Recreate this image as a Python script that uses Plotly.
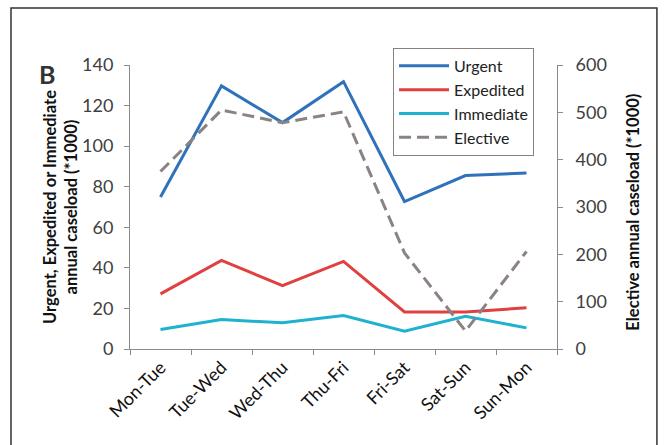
import plotly.graph_objects as go

# data
days = ["Mon-Tue", "Tue-Wed", "Wed-Thu", "Thu-Fri", "Fri-Sat", "Sat-Sun", "Sun-Mon"]
urgent = [74.9, 129.7, 111.6, 131.8, 72.7, 85.5, 86.7]
expedited = [27.2, 43.7, 31.2, 43.2, 18.3, 18.3, 20.3]
immediate = [9.6, 14.5, 12.9, 16.5, 8.8, 16.1, 10.4]
elective = [375, 505, 478, 501, 203, 38, 206]

FONT = "Lato, Carlito, Calibri, sans-serif"
AXIS_GREY = "#8a8a8a"
TICK_COLOR = "#404040"

fig = go.Figure()

fig.add_trace(go.Scatter(x=days, y=urgent, name="Urgent", mode="lines",
                         line=dict(color="#2f72bb", width=3)))
fig.add_trace(go.Scatter(x=days, y=expedited, name="Expedited", mode="lines",
                         line=dict(color="#e0403f", width=3)))
fig.add_trace(go.Scatter(x=days, y=immediate, name="Immediate", mode="lines",
                         line=dict(color="#1eb2cf", width=3)))
fig.add_trace(go.Scatter(x=days, y=elective, name="Elective", mode="lines",
                         yaxis="y2",
                         line=dict(color="#8b8282", width=3, dash="12px,6px")))

fig.update_layout(
    width=665, height=445,
    margin=dict(l=130, r=108, t=65, b=96, autoexpand=False),
    paper_bgcolor="white", plot_bgcolor="white",
    font=dict(family=FONT, size=16, color=TICK_COLOR),
    showlegend=True,
    legend=dict(x=0.616, y=1.06, xanchor="left", yanchor="top",
                bordercolor="#8a8080", borderwidth=1, bgcolor="white",
                itemwidth=50,
                font=dict(size=16, color="#222222"), tracegroupgap=0),
    xaxis=dict(type="category", range=[-0.5, 6.5], tickson="boundaries",
               showline=True, linecolor=AXIS_GREY, linewidth=1,
               ticks="outside", ticklen=5, tickcolor=AXIS_GREY,
               showgrid=False, zeroline=False, tickangle=-45,
               tickfont=dict(size=18, color="#111111")),
    yaxis=dict(range=[0, 140], dtick=20, showline=True, linecolor=AXIS_GREY,
               ticks="outside", ticklen=5, tickcolor=AXIS_GREY,
               showgrid=False, zeroline=False, ticklabelstandoff=7,
               tickfont=dict(size=18, color=TICK_COLOR)),
    yaxis2=dict(range=[0, 600], dtick=100, overlaying="y", side="right",
                showline=True, linecolor=AXIS_GREY,
                ticks="outside", ticklen=5, tickcolor=AXIS_GREY,
                showgrid=False, zeroline=False, ticklabelstandoff=9,
                tickfont=dict(size=18, color=TICK_COLOR)),
)

# axis titles and panel letter
fig.add_annotation(text="<b>Urgent, Expedited or Immediate<br>annual caseload (*1000)</b>",
                   xref="paper", yref="paper", x=-0.164, y=0.5,
                   xanchor="center", yanchor="middle", textangle=-90,
                   showarrow=False, font=dict(size=16.5, color="#111111"))
fig.add_annotation(text="<b>Elective annual caseload (*1000)</b>",
                   xref="paper", yref="paper", x=1.178, y=0.48,
                   xanchor="center", yanchor="middle", textangle=-90,
                   showarrow=False, font=dict(size=16.5, color="#111111"))
fig.add_annotation(text="<b>B</b>", xref="paper", yref="paper",
                   x=-0.195, y=0.97, xanchor="center", yanchor="middle",
                   showarrow=False, font=dict(size=25, color="#333333"))

# outer frame of the figure panel
fig.add_shape(type="rect", xref="paper", yref="paper",
              x0=-0.2787, x1=1.234, y0=-0.4, y1=1.2004,
              line=dict(color="#333333", width=1.5), fillcolor="rgba(0,0,0,0)",
              layer="below")

# the page body has a default 8px margin; drop it so the figure sits at the corner
fig.write_html("out.html", config={"displayModeBar": False},
               post_script="document.body.style.margin='0';")
